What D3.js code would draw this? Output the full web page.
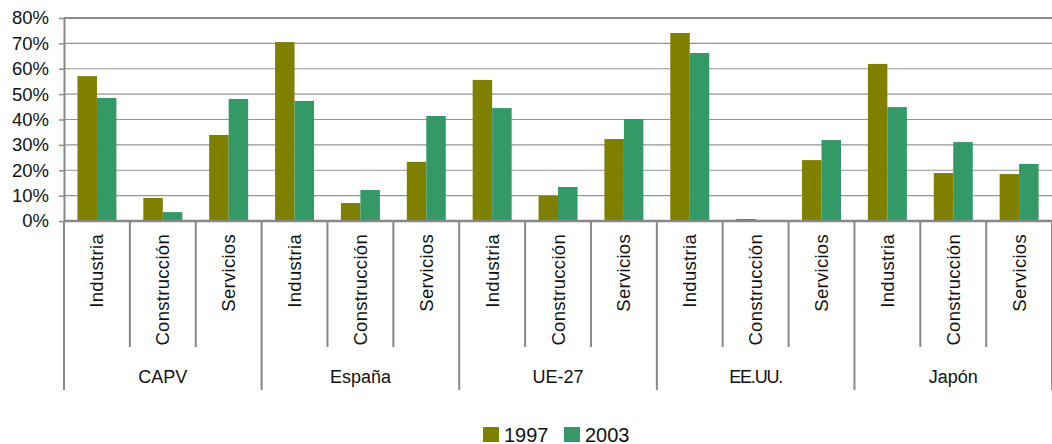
<!DOCTYPE html>
<html>
<head>
<meta charset="utf-8">
<script src="https://cdn.jsdelivr.net/npm/d3@7"></script>
<style>
  html, body { margin: 0; padding: 0; background: #fff; }
  svg text { font-family: "Liberation Sans", Arial, Helvetica, sans-serif; fill: #111; }
</style>
</head>
<body>
<svg id="chart" width="1052" height="444"></svg>
<script>
// Regions and sectors
const regions = ["CAPV", "España", "UE-27", "EE.UU.", "Japón"];
const sectors = ["Industria", "Construcción", "Servicios"];
const years = ["1997", "2003"];

// Share (%) per region × sector, in region order then sector order
const values1997 = [57.1, 9.1, 33.9,  70.5, 7.1, 23.3,  55.6, 9.9, 32.3,  74.1, 0.8, 24.0,  61.9, 18.9, 18.5];
const values2003 = [48.5, 3.5, 48.1,  47.3, 12.2, 41.4, 44.5, 13.4, 40.2, 66.2, 0.0, 31.9,  44.9, 31.1, 22.5];

const yTicks = [0, 10, 20, 30, 40, 50, 60, 70, 80];
const colors = { "1997": "#808000", "2003": "#339966" };

const rows = [];
regions.forEach((r, i) => sectors.forEach((s, j) => {
  const k = i * sectors.length + j;
  rows.push({ key: r + "|" + s, region: r, sector: s, "1997": values1997[k], "2003": values2003[k] });
}));

const svg = d3.select("#chart");
const plotLeft = 64, plotRight = 1052, plotTop = 18, plotBottom = 221;

const x0 = d3.scaleBand().domain(rows.map(d => d.key)).range([plotLeft, plotLeft + 65.87 * rows.length]).padding(0);
const x1 = d3.scaleBand().domain(years).range([0, x0.bandwidth()]).paddingInner(0).paddingOuter(0.69);
const y = d3.scaleLinear().domain([0, 80]).range([plotBottom, plotTop]);

// Gridlines
svg.append("g")
  .selectAll("line")
  .data(yTicks.filter(t => t > 0))
  .join("line")
  .attr("x1", plotLeft).attr("x2", plotRight)
  .attr("y1", d => y(d)).attr("y2", d => y(d))
  .attr("stroke", d => d === 80 ? "#8a8a8a" : "#959595")
  .attr("stroke-width", d => d === 80 ? 2 : 1.2);

// Y axis
const yAxis = svg.append("g")
  .attr("transform", `translate(${plotLeft},0)`)
  .call(d3.axisLeft(y).tickValues(yTicks).tickFormat(d => d + "%").tickSize(5).tickSizeOuter(0).tickPadding(10));
yAxis.select(".domain").attr("stroke", "#888").attr("stroke-width", 2);
yAxis.selectAll(".tick line").attr("stroke", "#888").attr("stroke-width", 1.5);
yAxis.selectAll(".tick text").attr("font-size", 18.5).attr("fill", "#111")
  .attr("font-family", "'Liberation Sans', Arial, sans-serif");

// Bars
const groups = svg.append("g")
  .selectAll("g")
  .data(rows)
  .join("g")
  .attr("transform", d => `translate(${x0(d.key)},0)`);
groups.selectAll("rect")
  .data(d => years.map(yr => ({ year: yr, value: d[yr] })))
  .join("rect")
  .attr("x", d => x1(d.year))
  .attr("width", x1.bandwidth())
  .attr("y", d => y(d.value))
  .attr("height", d => y(0) - y(d.value))
  .attr("fill", d => colors[d.year]);

// Category axis: baseline, separators and labels
svg.append("line")
  .attr("x1", plotLeft).attr("x2", plotRight)
  .attr("y1", plotBottom).attr("y2", plotBottom)
  .attr("stroke", "#888").attr("stroke-width", 2.5);

const sepG = svg.append("g");
rows.forEach((d, i) => {
  const xs = x0(d.key);
  const isGroupStart = i % sectors.length === 0;
  sepG.append("line")
    .attr("x1", xs).attr("x2", xs)
    .attr("y1", plotBottom).attr("y2", isGroupStart ? 390 : 347)
    .attr("stroke", "#888").attr("stroke-width", 2);
});
// closing line at the far right
const lastX = x0(rows[rows.length - 1].key) + x0.bandwidth();
sepG.append("line").attr("x1", lastX).attr("x2", lastX).attr("y1", plotBottom).attr("y2", 390)
  .attr("stroke", "#888").attr("stroke-width", 2);

svg.append("g")
  .selectAll("text")
  .data(rows)
  .join("text")
  .attr("transform", d => `translate(${x0(d.key) + x0.bandwidth() / 2 + 6.5},234) rotate(-90)`)
  .attr("text-anchor", "end")
  .attr("font-size", 18.5)
  .attr("letter-spacing", 0.3)
  .text(d => d.sector);

svg.append("g")
  .selectAll("text")
  .data(regions)
  .join("text")
  .attr("x", (r, i) => {
    const a = x0(rows[i * 3].key), b = x0(rows[i * 3 + 2].key) + x0.bandwidth();
    return (a + b) / 2;
  })
  .attr("y", 383)
  .attr("text-anchor", "middle")
  .attr("font-size", 18)
  .attr("letter-spacing", d => d === "EE.UU." ? -1.2 : 0)
  .text(d => d);

// Legend
const legend = svg.append("g").attr("transform", "translate(483,427)");
const legendX = [0, 81];
years.forEach((yr, i) => {
  const g = legend.append("g").attr("transform", `translate(${legendX[i]},0)`);
  g.append("rect").attr("width", 16).attr("height", 15).attr("fill", colors[yr]);
  g.append("text").attr("x", 21).attr("y", 14.5).attr("font-size", 20).text(yr);
});
</script>
</body>
</html>
